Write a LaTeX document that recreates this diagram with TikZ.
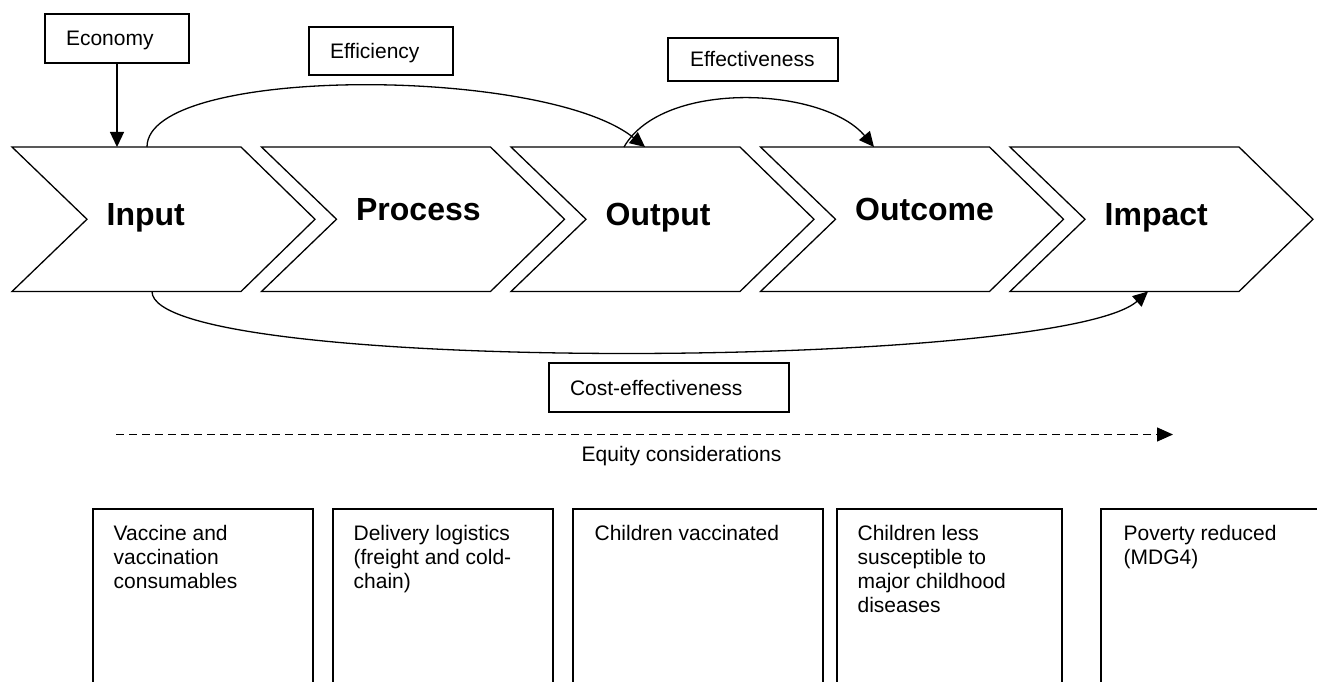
\documentclass[tikz,border=0pt]{standalone}
\usepackage{fontspec}
\setmainfont{Liberation Sans}
\usetikzlibrary{arrows.meta}
\begin{document}
\begin{tikzpicture}[x=1pt,y=-1pt,line width=1.3pt,
  lbl/.style={draw,rectangle,inner ysep=0pt,align=left,text height=15pt,text depth=0pt,font=\fontsize{21}{24}\selectfont},
  stagetxt/.style={anchor=base west,inner sep=0pt,font=\fontsize{32}{36}\selectfont\bfseries},
  desc/.style={anchor=north west,inner sep=0pt,align=left,font=\fontsize{21}{23.8}\selectfont},
  tip/.style={-{Triangle[length=15pt,width=14pt]}},
  chev/.style={draw,line join=miter},
  openbox/.style={draw,line width=1.4pt}
]
\useasboundingbox (0,0) rectangle (1317,682);

% chevrons
\foreach \i/\txt/\nm/\bl in {0/Input/sIn/225,1/Process/sPr/220,2/Output/sOu/225,3/Outcome/sOc/220,4/Impact/sIm/225}{
  \pgfmathsetmacro\L{12+249.5*\i}
  \path[chev] (\L,147) -- (\L+229,147) -- (\L+303,219.25) -- (\L+229,291.5) -- (\L,291.5) -- (\L+75,219.25) -- cycle;
  \node[stagetxt] (\nm) at (\L+94,\bl) {\txt};
}

% labels
\node[lbl,minimum width=144pt,minimum height=49pt,inner xsep=21pt,text width=102pt] (econ) at (117,38.5) {Economy};
\node[lbl,minimum width=144pt,minimum height=48pt,inner xsep=21pt,text width=102pt] (effi) at (381,51) {Efficiency};
\node[lbl,minimum width=170pt,minimum height=43pt,inner xsep=22pt,text width=126pt] (effe) at (753,59.5) {Effectiveness};
\node[lbl,minimum width=240pt,minimum height=49pt,inner xsep=21pt,text width=198pt] (cost) at (669,387.5) {Cost-effectiveness};

% connector end points on the chevrons
\coordinate (inTop) at (117,147);
\coordinate (effiS) at (147,147);
\coordinate (effiE) at (645,147);
\coordinate (effeS) at (624,147);
\coordinate (effeE) at (874,147);
\coordinate (costS) at (152,291.5);
\coordinate (costE) at (1148,291.5);

\draw[tip] (econ.south) -- (inTop);
\draw[tip] (effiS) .. controls (147,65) and (545,66) .. (effiE);
\draw[tip] (effeS) .. controls (663,79) and (824,87) .. (effeE);
\draw[tip] (costS) .. controls (152,375) and (1060,370) .. (costE);

% equity
\coordinate (eqS) at (116,434.5);
\coordinate (eqE) at (1173,434.5);
\draw[dash pattern=on 8pt off 5pt,-{Triangle[length=16pt,width=14pt]}] (eqS) -- (eqE);
\node[anchor=base,inner sep=0pt,font=\fontsize{21}{24}\selectfont] (eq) at (681.5,461) {Equity considerations};

% bottom boxes (open at the bottom edge of the picture)
\foreach \a/\b in {93/313,333/553,573/823,837/1062,1101/1340}{
  \path[openbox] (\a,700) -- (\a,509) -- (\b,509) -- (\b,700);
}
\node[desc] (d1) at (113,525) {Vaccine and\\vaccination\\consumables};
\node[desc] (d2) at (353,525) {Delivery logistics\\(freight and cold-\\chain)};
\node[desc] (d3) at (594,525) {Children vaccinated};
\node[desc] (d4) at (857,525) {Children less\\susceptible to\\major childhood\\diseases};
\node[desc] (d5) at (1123,525) {Poverty reduced\\(MDG4)};
\end{tikzpicture}
\end{document}
